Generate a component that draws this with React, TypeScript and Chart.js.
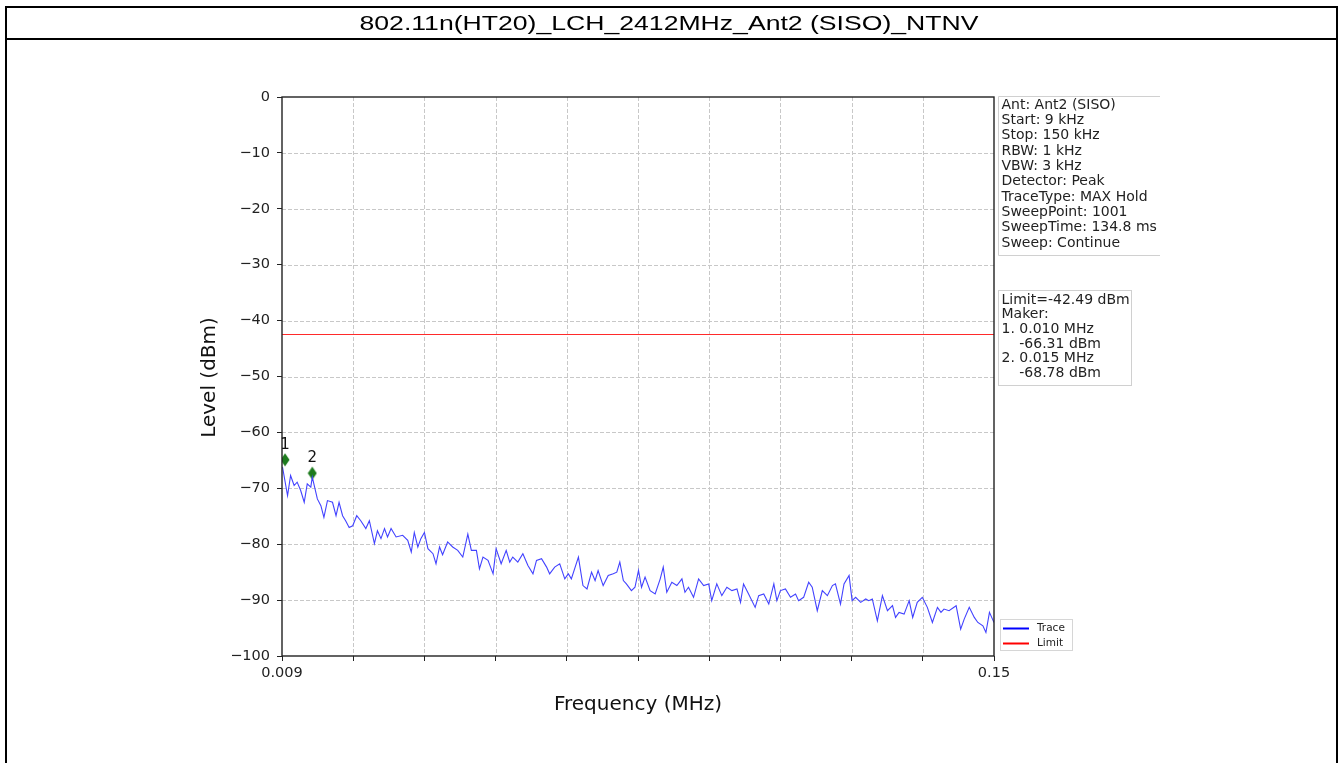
import React, { useEffect, useRef } from "react";
import { Chart, registerables } from "chart.js";

Chart.register(...registerables);

const TITLE = "802.11n(HT20)_LCH_2412MHz_Ant2 (SISO)_NTNV";
const X_TITLE = "Frequency (MHz)";
const Y_TITLE = "Level (dBm)";

const freqMHz = [
  0.0091, 0.0101, 0.0107, 0.0114, 0.012, 0.0127, 0.0134, 0.014, 0.0147, 0.015,
  0.016, 0.0167, 0.0173, 0.018, 0.019, 0.0197, 0.0203, 0.021, 0.0216, 0.0223,
  0.023, 0.0238, 0.0246, 0.0256, 0.0263, 0.0273, 0.0279, 0.0286, 0.0293, 0.0299,
  0.0306, 0.0316, 0.0329, 0.0339, 0.0346, 0.0352, 0.0359, 0.0365, 0.0372, 0.0379,
  0.0389, 0.0395, 0.0402, 0.0408, 0.0418, 0.0428, 0.0438, 0.0448, 0.0458, 0.0465,
  0.0475, 0.0481, 0.0488, 0.0498, 0.0508, 0.0514, 0.0524,
  0.0534, 0.0541, 0.0547, 0.0557, 0.0567, 0.0577, 0.0587, 0.0594, 0.0604, 0.0614,
  0.062, 0.063, 0.064, 0.065, 0.0657, 0.0663, 0.0677, 0.0686, 0.0694, 0.0703,
  0.071, 0.0716, 0.0726, 0.0736, 0.0746, 0.0753, 0.0759, 0.0766, 0.0772, 0.0782,
  0.0789, 0.0796, 0.0802, 0.0809, 0.0819, 0.0829, 0.0839, 0.0845, 0.0852, 0.0862,
  0.0872, 0.0882, 0.0888, 0.0895, 0.0905, 0.0915, 0.0925, 0.0935, 0.0941, 0.0951,
  0.0961, 0.0971, 0.0981, 0.0991, 0.0998,
  0.1004, 0.1014, 0.1027, 0.1034, 0.1044, 0.1054, 0.1064, 0.107, 0.1077, 0.1087,
  0.1097, 0.1107, 0.1113, 0.1123, 0.1133, 0.114, 0.115, 0.116, 0.117, 0.118,
  0.1186, 0.1196, 0.1203, 0.1213, 0.1219, 0.1226, 0.1236, 0.1246, 0.1252, 0.1259,
  0.1269, 0.1279, 0.1289, 0.1299, 0.1305, 0.1312, 0.1322, 0.1332, 0.1339, 0.1348,
  0.1358, 0.1368, 0.1378, 0.1388, 0.1395, 0.1401, 0.1411, 0.1425, 0.1434, 0.1441,
  0.1451, 0.1461, 0.1468, 0.1478, 0.1484, 0.1491, 0.1497, 0.15,
];

const levelDbm = [
  -66.2, -71.3, -67.7, -69.5, -68.9, -70.4, -72.5, -69.2, -69.8, -68.0,
  -71.9, -73.1, -75.2, -72.2, -72.5, -74.9, -72.5, -74.9, -75.8, -77.0,
  -76.7, -74.9, -75.8, -77.2, -75.8, -79.9, -77.6, -79.0, -77.2, -78.7,
  -77.2, -78.7, -78.4, -79.3, -81.4, -77.9, -80.5, -79.0, -77.9, -80.8,
  -81.7, -83.5, -80.5, -81.9, -79.6, -80.5, -81.1, -82.3, -78.2, -81.1,
  -81.1, -84.4, -82.3, -82.9, -85.3, -80.8, -83.5,
  -81.1, -83.2, -82.3, -83.2, -81.7, -83.8, -85.3, -82.9, -82.6, -84.1,
  -85.3, -84.1, -83.5, -86.2, -85.3, -86.2, -82.3, -87.4, -88.0, -85.0,
  -86.5, -84.7, -87.4, -85.6, -85.3, -85.0, -83.2, -86.5, -87.1, -88.3,
  -87.7, -84.7, -87.7, -85.9, -88.3, -88.9, -86.2, -84.1, -88.6, -86.8,
  -87.4, -86.2, -88.6, -87.7, -89.5, -86.2, -87.4, -87.1, -90.1, -87.1,
  -89.2, -87.7, -88.3, -88.0, -90.4,
  -87.1, -88.9, -91.3, -89.2, -88.9, -90.7, -87.1, -90.1, -88.3, -88.0,
  -89.5, -88.9, -90.1, -89.5, -86.8, -87.7, -91.9, -88.3, -89.2, -87.4,
  -87.1, -90.7, -87.1, -85.6, -90.1, -89.5, -90.4, -89.8, -90.1, -89.8,
  -93.7, -89.2, -91.9, -91.0, -93.1, -92.2, -92.5, -90.1, -93.1, -90.4,
  -89.5, -91.3, -94.0, -91.3, -92.2, -91.6, -91.9, -91.0, -95.2, -93.4,
  -91.3, -93.1, -94.0, -94.6, -95.8, -92.2, -93.4, -94.0,
];

const limitFreq = [0.009, 0.15];
const limitLevel = [-42.49, -42.49];

const markerFreq = [0.0096, 0.015];
const markerLevel = [-64.9, -67.3];
const markerLabels = ["1", "2"];

const xTickValues = [0.009, 0.0231, 0.0372, 0.0513, 0.0654, 0.0795, 0.0936, 0.1077, 0.1218, 0.1359, 0.15];
const xTickLabels = ["0.009", "", "", "", "", "", "", "", "", "", "0.15"];
const yTickValues = [0, -10, -20, -30, -40, -50, -60, -70, -80, -90, -100];

const infoLines = [
  "Ant: Ant2 (SISO)",
  "Start: 9 kHz",
  "Stop: 150 kHz",
  "RBW: 1 kHz",
  "VBW: 3 kHz",
  "Detector: Peak",
  "TraceType: MAX Hold",
  "SweepPoint: 1001",
  "SweepTime: 134.8 ms",
  "Sweep: Continue",
];
const limitInfoLines = [
  "Limit=-42.49 dBm",
  "Maker:",
  "1. 0.010 MHz",
  "    -66.31 dBm",
  "2. 0.015 MHz",
  "    -68.78 dBm",
];
const legendLabels = ["Trace", "Limit"];

const TRACE_COLOR = "#4242ff";
const LIMIT_COLOR = "#ff2a2a";
const MARKER_COLOR = "#1d7a1d";
const FONT = "'DejaVu Sans', sans-serif";

const W = 1344;
const H = 763;

function makeDiamond(): HTMLCanvasElement {
  const c = document.createElement("canvas");
  c.width = 10;
  c.height = 14;
  const g = c.getContext("2d")!;
  g.fillStyle = MARKER_COLOR;
  g.beginPath();
  g.moveTo(5, 0.5);
  g.lineTo(9.5, 7);
  g.lineTo(5, 13.5);
  g.lineTo(0.5, 7);
  g.closePath();
  g.fill();
  return c;
}

const decorPlugin = {
  id: "decor",
  beforeDatasetsDraw(chart: any) {
    const { ctx, chartArea, scales } = chart;
    const xs = scales.x;
    const ys = scales.y;
    ctx.save();
    ctx.strokeStyle = "#c8c8c8";
    ctx.lineWidth = 1;
    ctx.setLineDash([4, 2]);
    for (const v of yTickValues) {
      if (v === 0 || v === -100) continue;
      const y = Math.round(ys.getPixelForValue(v)) + 0.5;
      ctx.beginPath();
      ctx.moveTo(chartArea.left, y);
      ctx.lineTo(chartArea.right, y);
      ctx.stroke();
    }
    for (let i = 1; i < xTickValues.length - 1; i++) {
      const x = Math.round(xs.getPixelForValue(xTickValues[i])) + 0.5;
      ctx.beginPath();
      ctx.moveTo(x, chartArea.top);
      ctx.lineTo(x, chartArea.bottom);
      ctx.stroke();
    }
    ctx.restore();
  },
  afterDatasetsDraw(chart: any) {
    const { ctx, chartArea, scales } = chart;
    const xs = scales.x;
    const ys = scales.y;
    ctx.save();
    ctx.strokeStyle = "#222";
    ctx.lineWidth = 1.4;
    ctx.setLineDash([]);
    ctx.strokeRect(chartArea.left, chartArea.top, chartArea.right - chartArea.left, chartArea.bottom - chartArea.top);

    ctx.fillStyle = "#111";
    ctx.font = `15px ${FONT}`;
    ctx.textAlign = "center";
    ctx.textBaseline = "middle";
    markerLabels.forEach((lab, i) => {
      const x = xs.getPixelForValue(markerFreq[i]);
      const y = ys.getPixelForValue(markerLevel[i]);
      ctx.fillText(lab, x, y - 15);
    });

    ctx.font = `20px ${FONT}`;
    ctx.fillStyle = "#111";
    ctx.fillText(X_TITLE, (chartArea.left + chartArea.right) / 2, 705);
    ctx.save();
    ctx.translate(210, (chartArea.top + chartArea.bottom) / 2 + 1);
    ctx.rotate(-Math.PI / 2);
    ctx.fillText(Y_TITLE, 0, 0);
    ctx.restore();

    ctx.save();
    ctx.beginPath();
    ctx.rect(990, 80, 170, 200);
    ctx.clip();
    ctx.strokeStyle = "#d0d0d0";
    ctx.lineWidth = 1;
    ctx.beginPath();
    ctx.moveTo(1170, 96.5);
    ctx.lineTo(998.5, 96.5);
    ctx.lineTo(998.5, 255.5);
    ctx.lineTo(1170, 255.5);
    ctx.stroke();
    ctx.fillStyle = "#222";
    ctx.font = `14px ${FONT}`;
    ctx.textAlign = "left";
    ctx.textBaseline = "middle";
    infoLines.forEach((t, i) => ctx.fillText(t, 1001.5, 105 + i * 15.33));
    ctx.restore();

    ctx.strokeStyle = "#d0d0d0";
    ctx.lineWidth = 1;
    ctx.fillStyle = "#ffffff";
    ctx.fillRect(998.5, 290.5, 133, 95);
    ctx.strokeRect(998.5, 290.5, 133, 95);
    ctx.fillStyle = "#222";
    ctx.font = `14px ${FONT}`;
    ctx.textAlign = "left";
    ctx.textBaseline = "middle";
    limitInfoLines.forEach((t, i) => ctx.fillText(t, 1001.5, 300 + i * 14.7));

    ctx.strokeStyle = "#d6d6d6";
    ctx.fillStyle = "#ffffff";
    ctx.fillRect(1000.5, 619.5, 72, 31);
    ctx.strokeRect(1000.5, 619.5, 72, 31);
    const colors = [TRACE_COLOR, LIMIT_COLOR];
    ctx.font = `10.5px ${FONT}`;
    legendLabels.forEach((lab, i) => {
      const y = 628.5 + i * 15;
      ctx.strokeStyle = i === 0 ? "#0000ff" : "#ff0000";
      ctx.lineWidth = 2;
      ctx.beginPath();
      ctx.moveTo(1003, y);
      ctx.lineTo(1029, y);
      ctx.stroke();
      ctx.fillStyle = "#222";
      ctx.fillText(lab, 1037, y);
    });
    ctx.restore();
  },
};

function ChartCanvas() {
  const ref = useRef<HTMLCanvasElement | null>(null);
  useEffect(() => {
    if (!ref.current) return;
    const chart = new Chart(ref.current, {
      type: "line",
      data: {
        datasets: [
          {
            label: "Trace",
            data: freqMHz.map((f, i) => ({ x: f, y: levelDbm[i] })),
            borderColor: TRACE_COLOR,
            borderWidth: 1.1,
            pointRadius: 0,
            tension: 0,
          },
          {
            label: "Limit",
            data: limitFreq.map((f, i) => ({ x: f, y: limitLevel[i] })),
            borderColor: LIMIT_COLOR,
            borderWidth: 1.2,
            pointRadius: 0,
          },
          {
            label: "Marker",
            data: markerFreq.map((f, i) => ({ x: f, y: markerLevel[i] })),
            showLine: false,
            pointStyle: makeDiamond(),
            pointRadius: 6,
            backgroundColor: MARKER_COLOR,
            borderColor: MARKER_COLOR,
          },
        ],
      } as any,
      options: {
        responsive: false,
        animation: false,
        devicePixelRatio: 1,
        layout: { padding: { left: 222, top: 97, right: W - 994, bottom: H - 656 - 50 } },
        plugins: { legend: { display: false }, tooltip: { enabled: false }, title: { display: false } },
        scales: {
          x: {
            type: "linear",
            min: 0.009,
            max: 0.15,
            afterBuildTicks: (s: any) => {
              s.ticks = xTickValues.map((v) => ({ value: v }));
            },
            afterFit: (s: any) => {
              s.height = 50;
            },
            ticks: {
              autoSkip: false,
              maxRotation: 0,
              minRotation: 0,
              padding: 4,
              color: "#222",
              font: { family: FONT, size: 14.5 },
              callback: (_v: any, i: number) => xTickLabels[i],
            },
            grid: { drawOnChartArea: false, drawTicks: true, tickLength: 5, tickColor: "#222", tickWidth: 1 },
            border: { display: false },
          },
          y: {
            min: -100,
            max: 0,
            afterBuildTicks: (s: any) => {
              s.ticks = yTickValues.map((v) => ({ value: v }));
            },
            afterFit: (s: any) => {
              s.width = 60;
            },
            ticks: {
              autoSkip: false,
              padding: 7,
              color: "#222",
              font: { family: FONT, size: 14.5 },
              callback: (v: any) => (Number(v) < 0 ? "\u2212" + Math.abs(Number(v)) : String(v)),
            },
            grid: { drawOnChartArea: false, drawTicks: true, tickLength: 5, tickColor: "#222", tickWidth: 1 },
            border: { display: false },
          },
        },
      } as any,
      plugins: [decorPlugin],
    });
    return () => chart.destroy();
  }, []);
  return <canvas ref={ref} width={W} height={H} style={{ position: "absolute", left: 0, top: 0, width: W, height: H }} />;
}

export default function App() {
  const line = (style: React.CSSProperties) => (
    <div style={{ position: "absolute", background: "#000", ...style }} />
  );
  return (
    <div style={{ position: "absolute", left: 0, top: 0, width: W, height: H, background: "#fff", overflow: "hidden" }}>
      <ChartCanvas />
      {line({ left: 5, top: 6, width: 1333, height: 2 })}
      {line({ left: 5, top: 38, width: 1333, height: 2 })}
      {line({ left: 5, top: 6, width: 2, height: H - 6 })}
      {line({ left: 1336, top: 6, width: 2, height: H - 6 })}
      <div
        style={{
          position: "absolute",
          left: 7,
          top: 8,
          width: 1329,
          height: 30,
          lineHeight: "30px",
          textAlign: "center",
          fontFamily: "'Liberation Sans', Arial, sans-serif",
          fontSize: 20,
          color: "#000",
          transform: "scaleX(1.33)",
          transformOrigin: "672px 15px",
          whiteSpace: "nowrap",
        }}
      >
        {TITLE}
      </div>
    </div>
  );
}
